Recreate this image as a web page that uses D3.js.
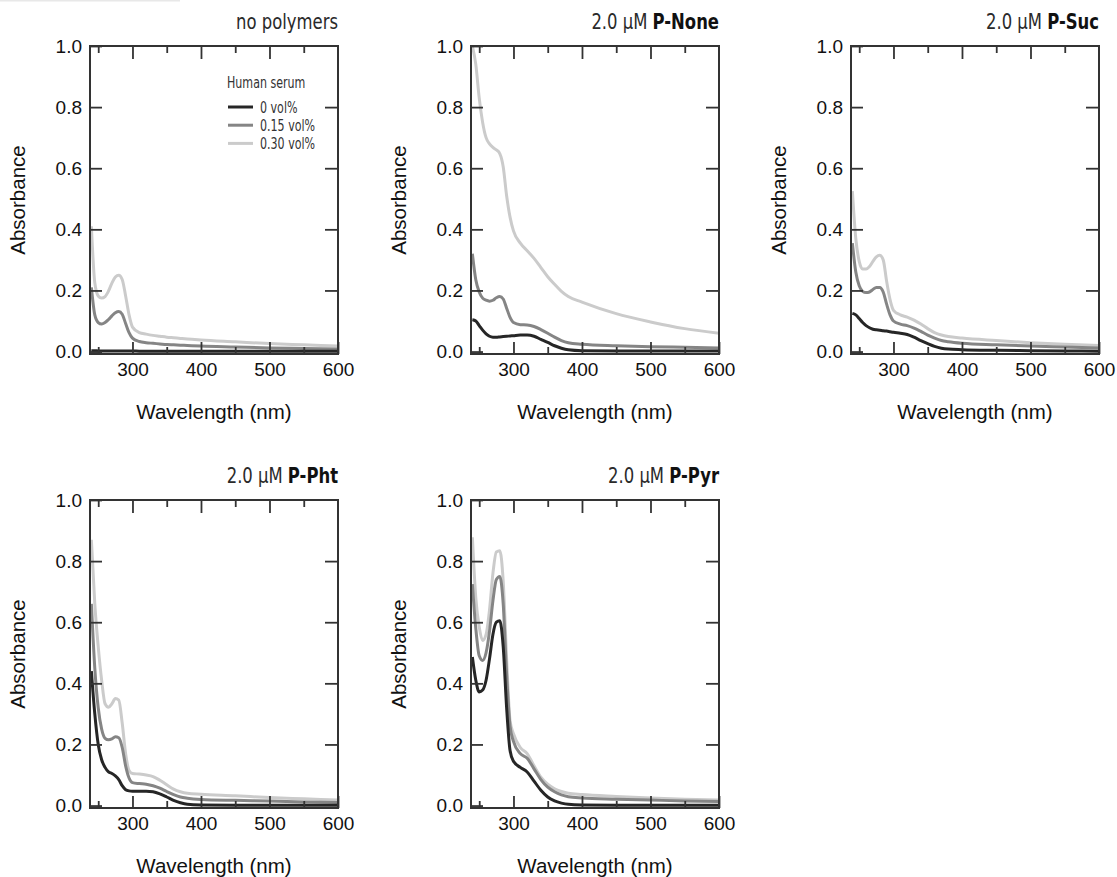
<!DOCTYPE html>
<html>
<head>
<meta charset="utf-8">
<script src="https://cdn.jsdelivr.net/npm/d3@7"></script>
<style>
  body { margin: 0; background: #fff; }
  svg { display: block; }
  .tick text { font-family: "Liberation Sans", Arial, sans-serif; font-size: 19px; fill: #111; }
  .tick line { stroke: #333; stroke-width: 1.8; }
  .cond { font-family: "Liberation Sans Narrow", "DejaVu Sans Condensed", sans-serif; }
</style>
</head>
<body>
<svg id="chart" width="1117" height="877"></svg>
<script>
// wavelength grid (nm) shared by every spectrum
const wavelengths = [240, 245, 250, 255, 260, 265, 270, 275, 280, 285, 290, 295, 300,
  310, 320, 330, 340, 350, 360, 370, 380, 400, 450, 500, 550, 600];

const serumLabels = ["0 vol%", "0.15 vol%", "0.30 vol%"];

// no polymers
const noPoly0  = [0.003, 0.003, 0.002, 0.002, 0.002, 0.002, 0.002, 0.002, 0.002, 0.002, 0.002, 0.002, 0.002,
  0.001, 0.001, 0.001, 0.001, 0.001, 0.001, 0.001, 0.001, 0.001, 0.001, 0.001, 0.001, 0.001];
const noPoly15 = [0.21, 0.12, 0.095, 0.09, 0.095, 0.105, 0.117, 0.127, 0.131, 0.122, 0.092, 0.062, 0.044,
  0.033, 0.029, 0.027, 0.025, 0.023, 0.022, 0.021, 0.02, 0.018, 0.015, 0.012, 0.01, 0.008];
const noPoly30 = [0.41, 0.225, 0.182, 0.175, 0.18, 0.198, 0.224, 0.244, 0.25, 0.236, 0.182, 0.12, 0.08,
  0.062, 0.057, 0.053, 0.05, 0.047, 0.045, 0.043, 0.041, 0.038, 0.032, 0.026, 0.022, 0.018];

// P-None
const pNone0  = [0.104, 0.1, 0.085, 0.07, 0.058, 0.05, 0.047, 0.047, 0.048, 0.049, 0.05, 0.051, 0.052,
  0.054, 0.054, 0.05, 0.04, 0.03, 0.019, 0.011, 0.006, 0.003, 0.002, 0.002, 0.002, 0.002];
const pNone15 = [0.32, 0.235, 0.195, 0.175, 0.168, 0.165, 0.168, 0.176, 0.18, 0.172, 0.142, 0.112, 0.095,
  0.088, 0.087, 0.082, 0.072, 0.06, 0.047, 0.036, 0.029, 0.024, 0.019, 0.016, 0.014, 0.012];
const pNone30 = [1.0, 0.94, 0.83, 0.75, 0.7, 0.68, 0.668, 0.66, 0.648, 0.605, 0.51, 0.44, 0.395,
  0.355, 0.33, 0.305, 0.275, 0.245, 0.22, 0.197, 0.18, 0.162, 0.124, 0.097, 0.075, 0.06];

// P-Suc
const pSuc0  = [0.125, 0.12, 0.108, 0.095, 0.085, 0.078, 0.073, 0.071, 0.07, 0.068, 0.067, 0.065, 0.063,
  0.06, 0.056, 0.047, 0.036, 0.026, 0.017, 0.011, 0.008, 0.006, 0.004, 0.003, 0.002, 0.001];
const pSuc15 = [0.355, 0.26, 0.215, 0.197, 0.193, 0.195, 0.203, 0.21, 0.21, 0.195, 0.155, 0.12, 0.1,
  0.09, 0.085, 0.077, 0.066, 0.054, 0.044, 0.036, 0.032, 0.027, 0.022, 0.018, 0.015, 0.012];
const pSuc30 = [0.525, 0.37, 0.295, 0.27, 0.27, 0.278, 0.295, 0.31, 0.315, 0.3, 0.23, 0.17, 0.135,
  0.12, 0.113, 0.103, 0.09, 0.075, 0.062, 0.054, 0.049, 0.044, 0.036, 0.029, 0.024, 0.02];

// P-Pht
const pPht0  = [0.44, 0.3, 0.2, 0.15, 0.125, 0.11, 0.105, 0.097, 0.085, 0.065, 0.052, 0.048, 0.047,
  0.047, 0.047, 0.045, 0.038, 0.028, 0.017, 0.009, 0.004, 0.002, 0.001, 0.001, 0.001, 0.001];
const pPht15 = [0.66, 0.45, 0.32, 0.25, 0.22, 0.215, 0.218, 0.225, 0.222, 0.19, 0.13, 0.09, 0.075,
  0.072, 0.07, 0.065, 0.057, 0.046, 0.036, 0.028, 0.024, 0.02, 0.017, 0.015, 0.012, 0.01];
const pPht30 = [0.87, 0.66, 0.52, 0.41, 0.333, 0.322, 0.333, 0.35, 0.345, 0.27, 0.17, 0.115, 0.105,
  0.103, 0.1, 0.095, 0.083, 0.068, 0.054, 0.045, 0.04, 0.037, 0.032, 0.026, 0.022, 0.018];

// P-Pyr
const pPyr0  = [0.486, 0.41, 0.372, 0.378, 0.41, 0.48, 0.56, 0.6, 0.605, 0.52, 0.32, 0.18, 0.145,
  0.125, 0.11, 0.08, 0.05, 0.028, 0.015, 0.008, 0.004, 0.002, 0.001, 0.001, 0.001, 0.001];
const pPyr15 = [0.725, 0.58, 0.49, 0.475, 0.5, 0.57, 0.67, 0.74, 0.75, 0.66, 0.43, 0.26, 0.21,
  0.17, 0.155, 0.12, 0.085, 0.06, 0.045, 0.035, 0.029, 0.025, 0.021, 0.018, 0.015, 0.013];
const pPyr30 = [0.878, 0.68, 0.584, 0.54, 0.56, 0.64, 0.76, 0.83, 0.834, 0.735, 0.48, 0.278, 0.235,
  0.19, 0.17, 0.13, 0.093, 0.07, 0.055, 0.046, 0.04, 0.036, 0.03, 0.025, 0.021, 0.018];

const yTicks = [0, 0.2, 0.4, 0.6, 0.8, 1.0];
const xMajor = [300, 400, 500, 600];
const xMinor = [250, 350, 450, 550];

const colors = ["#262626", "#858585", "#cbcbcb"];

const panels = [
  { pre: "no polymers", bold: "", col: 0, row: 0, series: [noPoly0, noPoly15, noPoly30], legend: true },
  { pre: "2.0 µM ", bold: "P-None", col: 1, row: 0, series: [pNone0, pNone15, pNone30] },
  { pre: "2.0 µM ", bold: "P-Suc", col: 2, row: 0, series: [pSuc0, pSuc15, pSuc30] },
  { pre: "2.0 µM ", bold: "P-Pht", col: 0, row: 1, series: [pPht0, pPht15, pPht30] },
  { pre: "2.0 µM ", bold: "P-Pyr", col: 1, row: 1, series: [pPyr0, pPyr15, pPyr30] }
];

const svg = d3.select("#chart");
const pw = 248, ph = 308;
const colX = [90, 471, 851];
const rowY = [46, 500];

// faint strip at the top left of the original figure
svg.append("rect").attr("x", 0).attr("y", 0).attr("width", 180).attr("height", 1.5).attr("fill", "#e8e8e8");

const x = d3.scaleLinear().domain([238, 600]).range([0, pw]);
const y = d3.scaleLinear().domain([-0.008, 1.0]).range([ph, 0]);

const line = d3.line()
  .x(d => x(d[0]))
  .y(d => y(d[1]))
  .curve(d3.curveMonotoneX);

panels.forEach(p => {
  const left = colX[p.col], top = rowY[p.row];
  const g = svg.append("g").attr("transform", `translate(${left},${top})`);

  // spectra (lightest drawn first)
  [2, 1, 0].forEach(i => {
    g.append("path")
      .datum(wavelengths.map((w, k) => [w, p.series[i][k]]))
      .attr("d", line)
      .attr("fill", "none")
      .attr("stroke", colors[i])
      .attr("stroke-width", 3);
  });

  // axes, all ticks pointing inward
  g.append("g")
    .call(d3.axisLeft(y).tickValues(yTicks).tickSize(-12).tickPadding(8).tickFormat(d3.format(".1f")))
    .call(a => a.select(".domain").remove());
  g.append("g").attr("transform", `translate(${pw},0)`)
    .call(d3.axisRight(y).tickValues([0.2, 0.4, 0.6, 0.8]).tickSize(-13).tickFormat(""))
    .call(a => a.select(".domain").remove());
  g.append("g")
    .call(d3.axisTop(x).tickValues([300, 400, 500]).tickSize(-13).tickFormat(""))
    .call(a => a.select(".domain").remove());
  g.append("g")
    .call(d3.axisTop(x).tickValues(xMinor).tickSize(-7).tickFormat(""))
    .call(a => a.select(".domain").remove());
  g.append("g").attr("transform", `translate(0,${ph})`)
    .call(d3.axisBottom(x).tickValues(xMajor).tickSize(-12).tickPadding(9))
    .call(a => a.select(".domain").remove());
  g.append("g").attr("transform", `translate(0,${ph})`)
    .call(d3.axisBottom(x).tickValues(xMinor).tickSize(-7).tickFormat(""))
    .call(a => a.select(".domain").remove());

  g.append("rect")
    .attr("width", pw).attr("height", ph)
    .attr("fill", "none").attr("stroke", "#333").attr("stroke-width", 2);

  // title, squeezed horizontally to look like a condensed face
  const t = g.append("g")
    .attr("transform", `translate(${pw},-17) scale(0.85,1)`)
    .append("text")
    .attr("class", "cond")
    .attr("text-anchor", "end")
    .attr("font-size", 21.5)
    .attr("fill", "#2a2a2a");
  t.append("tspan").text(p.pre);
  if (p.bold) t.append("tspan").attr("font-weight", "bold").attr("fill", "#111").text(p.bold);

  // axis titles
  g.append("text")
    .attr("transform", `translate(-72,${ph / 2}) rotate(-90)`)
    .attr("text-anchor", "middle").attr("dy", "0.35em")
    .attr("font-family", "'Liberation Sans', Arial, sans-serif")
    .attr("font-size", 20.5).attr("fill", "#111")
    .text("Absorbance");
  g.append("text")
    .attr("x", pw / 2).attr("y", ph + 65)
    .attr("text-anchor", "middle")
    .attr("font-family", "'Liberation Sans', Arial, sans-serif")
    .attr("font-size", 20.5).attr("fill", "#111")
    .text("Wavelength (nm)");

  if (p.legend) {
    const lg = g.append("g");
    lg.append("g").attr("transform", "translate(137,42) scale(0.77,1)")
      .append("text").attr("class", "cond")
      .attr("font-size", 16).attr("fill", "#333").text("Human serum");
    serumLabels.forEach((lab, i) => {
      const ly = 61 + i * 18.2;
      lg.append("line").attr("x1", 138).attr("x2", 163).attr("y1", ly).attr("y2", ly)
        .attr("stroke", colors[i]).attr("stroke-width", 3);
      lg.append("g").attr("transform", `translate(170,${ly + 6}) scale(0.77,1)`)
        .append("text").attr("class", "cond")
        .attr("font-size", 16).attr("fill", "#333").text(lab);
    });
  }
});
</script>
</body>
</html>
